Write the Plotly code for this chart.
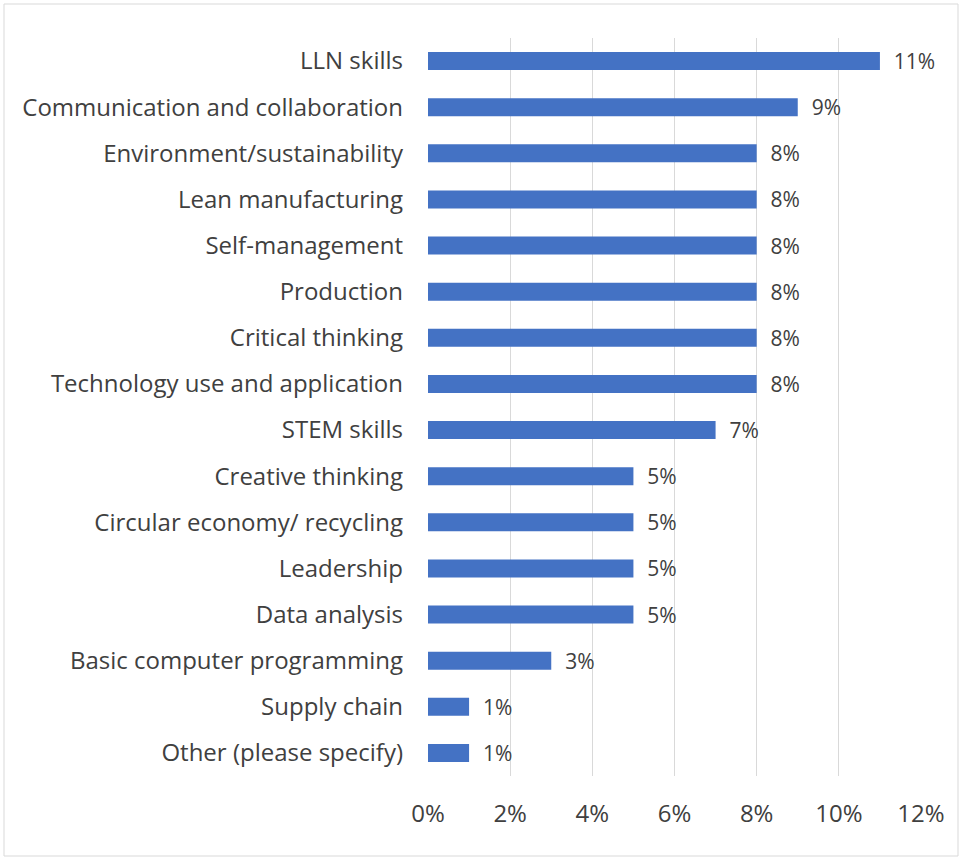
import plotly.graph_objects as go

# Share of respondents by skill area (top to bottom as listed)
skills = [
    "LLN skills",
    "Communication and collaboration",
    "Environment/sustainability",
    "Lean manufacturing",
    "Self-management",
    "Production",
    "Critical thinking",
    "Technology use and application",
    "STEM skills",
    "Creative thinking",
    "Circular economy/ recycling",
    "Leadership",
    "Data analysis",
    "Basic computer programming",
    "Supply chain",
    "Other (please specify)",
]
shares = [0.11, 0.09, 0.08, 0.08, 0.08, 0.08, 0.08, 0.08, 0.07,
          0.05, 0.05, 0.05, 0.05, 0.03, 0.01, 0.01]
tick_vals = [0, 0.02, 0.04, 0.06, 0.08, 0.10, 0.12]
tick_text = ["0%", "2%", "4%", "6%", "8%", "10%", "12%"]

W, H = 962, 860
L, R, T, B = 428, 41, 38, 84
FONT = "Open Sans"
TEXT = "#404040"

fig = go.Figure(
    go.Bar(
        x=shares,
        y=skills,
        orientation="h",
        marker=dict(color="#4472C4", line=dict(width=0)),
        texttemplate="\u00a0\u00a0%{x:.0%}",
        textposition="outside",
        constraintext="none",
        textfont=dict(family=FONT, size=21, color=TEXT),
        cliponaxis=False,
    )
)

fig.update_layout(
    width=W,
    height=H,
    margin=dict(l=L, r=R, t=T, b=B, pad=0),
    paper_bgcolor="white",
    plot_bgcolor="white",
    bargap=0.61,
    showlegend=False,
    font=dict(family=FONT, color=TEXT),
)

fig.update_xaxes(
    range=[0, 0.12],
    tickvals=tick_vals,
    ticktext=tick_text,
    tickfont=dict(family=FONT, size=24, color=TEXT),
    showgrid=True,
    gridcolor="#D9D9D9",
    gridwidth=1,
    zeroline=False,
    showline=False,
    ticks="",
    ticklabelstandoff=21,
)

fig.update_yaxes(
    categoryorder="array",
    categoryarray=skills[::-1],
    tickfont=dict(family=FONT, size=24, color=TEXT),
    showgrid=False,
    zeroline=False,
    showline=False,
    ticks="",
    ticklabelstandoff=24,
)

# Thin frame around the whole chart area
pw, ph = W - L - R, H - T - B
fig.add_shape(
    type="rect",
    xref="paper", yref="paper",
    x0=(4 - L) / pw, x1=(958 - L) / pw,
    y0=(H - B - 856) / ph, y1=(H - B - 4) / ph,
    line=dict(color="#D9D9D9", width=1),
    fillcolor="rgba(0,0,0,0)",
    layer="below",
)

fig.write_html("out.html")
